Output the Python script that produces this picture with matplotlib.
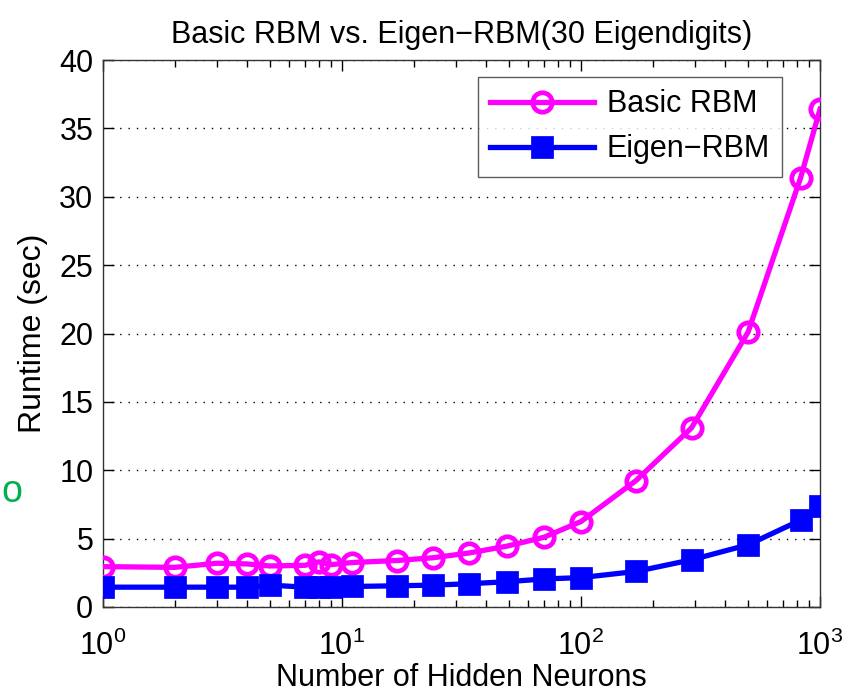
import matplotlib
matplotlib.use("Agg")
import matplotlib.pyplot as plt
from matplotlib.ticker import LogLocator, NullFormatter, MultipleLocator

plt.rcParams['font.family'] = ['Liberation Sans', 'DejaVu Sans']
plt.rcParams['mathtext.fontset'] = 'custom'
plt.rcParams['mathtext.rm'] = 'Liberation Sans'
plt.rcParams['mathtext.it'] = 'Liberation Sans:italic'
plt.rcParams['mathtext.bf'] = 'Liberation Sans:bold'

hidden = [1, 2, 3, 4, 5, 7, 8, 9, 11, 17, 24, 34, 49, 70, 100, 170, 290, 500, 830, 1000]
basic_rbm = [2.95, 2.9, 3.2, 3.15, 3.0, 3.05, 3.3, 3.1, 3.25, 3.4, 3.6, 3.95, 4.45, 5.1, 6.25, 9.25, 13.1, 20.1, 31.4, 36.4]
eigen_rbm = [1.45, 1.45, 1.45, 1.45, 1.6, 1.45, 1.45, 1.45, 1.5, 1.55, 1.6, 1.7, 1.85, 2.05, 2.15, 2.6, 3.45, 4.55, 6.35, 7.4]

title = "Basic RBM vs. Eigen\u2212RBM(30 Eigendigits)"
xlabel = "Number of Hidden Neurons"
ylabel = "Runtime (sec)"
labels = ["Basic RBM", "Eigen\u2212RBM"]

W, H = 845, 695
fig = plt.figure(figsize=(W/100, H/100), dpi=100)
ax = fig.add_axes([103/W, 1-607/H, (820-103)/W, (607-60)/H])

ax.plot(hidden, basic_rbm, color=(1, 0, 1), lw=3.8, marker='o', ms=14,
        mfc='none', mec=(1, 0, 1), mew=3.4, label=labels[0], zorder=3)
ax.plot(hidden, eigen_rbm, color=(0, 0, 1), lw=3.8, marker='s', ms=13,
        mfc=(0, 0, 1), mec=(0, 0, 1), mew=3.4, label=labels[1], zorder=3)

ax.set_xscale('log')
ax.set_xlim(1, 1000)
ax.set_ylim(0, 40)
ax.yaxis.set_major_locator(MultipleLocator(5))
ax.xaxis.set_major_locator(LogLocator(base=10, numticks=10))
ax.xaxis.set_minor_locator(LogLocator(base=10, subs=range(2, 10), numticks=10))
ax.xaxis.set_minor_formatter(NullFormatter())

ax.grid(axis='y', which='major', linestyle=(0, (1, 5)), color='black', lw=1.0)
ax.tick_params(which='both', direction='in', top=True, right=True, labelsize=22)
ax.tick_params(axis='y', pad=7)
ax.tick_params(axis='x', pad=17)
ax.tick_params(which='major', length=8, width=1)
ax.tick_params(which='minor', length=5, width=1)
for s in ax.spines.values():
    s.set_linewidth(1.0)
    s.set_color('#333333')

ax.set_title(title, fontsize=22, pad=12)
ax.set_xlabel(xlabel, fontsize=22, labelpad=1)
ax.set_ylabel(ylabel, fontsize=23, labelpad=8)

leg = ax.legend(loc='upper right', bbox_to_anchor=((782-103)/717, (607-77)/547),
                borderaxespad=0.0, fontsize=22, handlelength=3.4, frameon=True,
                fancybox=False, edgecolor='#333333', borderpad=0.4,
                handletextpad=0.4, labelspacing=0.5)
leg.get_frame().set_linewidth(1.0)

fig.text(1/W, 1-492/H, "o", color='#00b050', fontsize=27, va='center', ha='left')

fig.savefig("out.png", dpi=100)
